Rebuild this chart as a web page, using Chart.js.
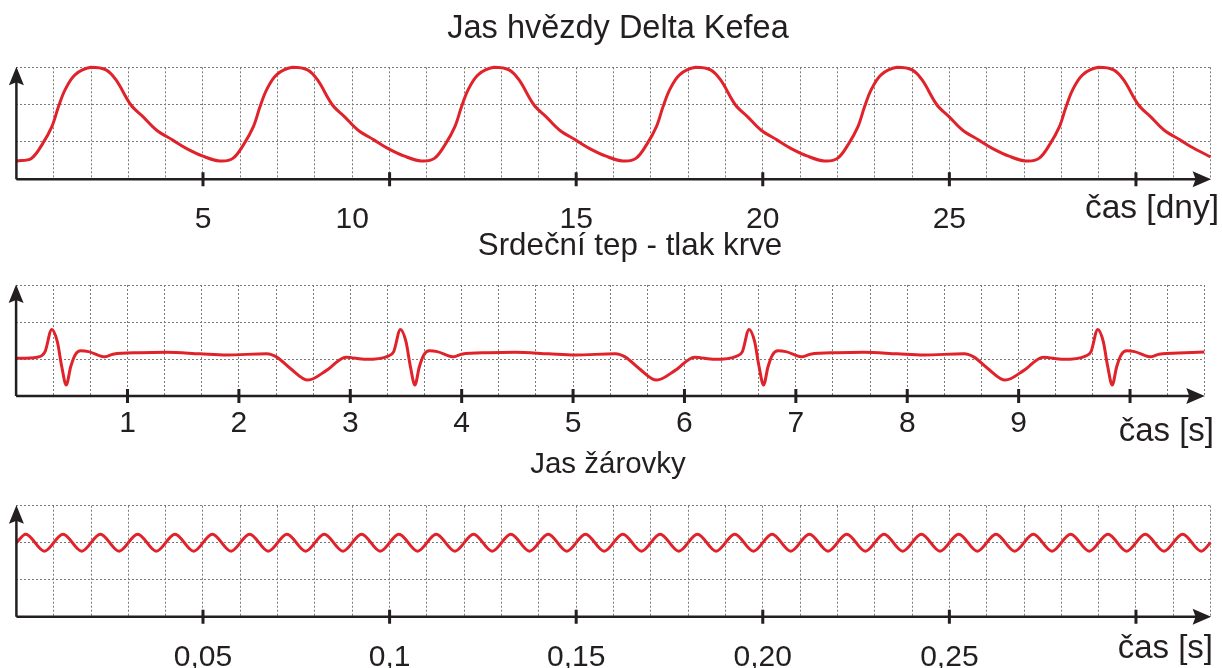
<!DOCTYPE html>
<html>
<head>
<meta charset="utf-8">
<script src="https://cdn.jsdelivr.net/npm/chart.js@4/dist/chart.umd.min.js"></script>
<style>
  body { margin: 0; background: #fff; }
  #wrap { position: relative; width: 1222px; height: 668px; overflow: hidden; }
  #wrap canvas { position: absolute; left: 0; top: 0; }
</style>
</head>
<body>
<div id="wrap">
  <canvas id="c1" width="1222" height="668"></canvas>
  <canvas id="c2" width="1222" height="668"></canvas>
  <canvas id="c3" width="1222" height="668"></canvas>
</div>
<script>
// 1) Jas hvězdy Delta Kefea - čas ve dnech, jas (0..3)
var starDays = [0, 0.4, 0.7, 0.95, 1.12, 1.3, 1.57, 2.0, 2.4, 2.67, 3.07, 3.39, 3.75, 4.19, 4.55, 5.0, 5.45,
  5.8, 6.1, 6.35, 6.52, 6.7, 6.97, 7.4, 7.8, 8.07, 8.47, 8.79, 9.15, 9.59, 9.95, 10.4, 10.85,
  11.2, 11.5, 11.75, 11.92, 12.1, 12.37, 12.8, 13.2, 13.47, 13.87, 14.19, 14.55, 14.99, 15.35, 15.8, 16.25,
  16.6, 16.9, 17.15, 17.32, 17.5, 17.77, 18.2, 18.6, 18.87, 19.27, 19.59, 19.95, 20.39, 20.75, 21.2, 21.65,
  22.0, 22.3, 22.55, 22.72, 22.9, 23.17, 23.6, 24.0, 24.27, 24.67, 24.99, 25.35, 25.79, 26.15, 26.6, 27.05,
  27.4, 27.7, 27.95, 28.12, 28.3, 28.57, 29.0, 29.4, 29.67, 30.07, 30.39, 30.75, 31.19, 31.55, 32.0];
var starBrightness = [0.49, 0.56, 0.95, 1.41, 1.92, 2.39, 2.8, 3.0, 2.93, 2.66, 1.99, 1.68, 1.32, 1.05, 0.83, 0.62, 0.49,
  0.56, 0.95, 1.41, 1.92, 2.39, 2.8, 3.0, 2.93, 2.66, 1.99, 1.68, 1.32, 1.05, 0.83, 0.62, 0.49,
  0.56, 0.95, 1.41, 1.92, 2.39, 2.8, 3.0, 2.93, 2.66, 1.99, 1.68, 1.32, 1.05, 0.83, 0.62, 0.49,
  0.56, 0.95, 1.41, 1.92, 2.39, 2.8, 3.0, 2.93, 2.66, 1.99, 1.68, 1.32, 1.05, 0.83, 0.62, 0.49,
  0.56, 0.95, 1.41, 1.92, 2.39, 2.8, 3.0, 2.93, 2.66, 1.99, 1.68, 1.32, 1.05, 0.83, 0.62, 0.49,
  0.56, 0.95, 1.41, 1.92, 2.39, 2.8, 3.0, 2.93, 2.66, 1.99, 1.68, 1.32, 1.05, 0.83, 0.60];
var starTicks = [5, 10, 15, 20, 25, 30];
var starTickLabels = ['5', '10', '15', '20', '25'];
var starLabelAt = [5, 9, 15, 20, 25];

// 2) Srdeční tep - čas v sekundách, tlak (0..3)
var heartTime = [0, 0.19, 0.26, 0.32, 0.37, 0.41, 0.45, 0.49, 0.53, 0.58, 0.65, 0.80, 0.87, 1.11, 1.35, 1.65, 1.89, 2.25, 2.34, 2.46, 2.62, 2.79, 2.96, 3.14, 3.34,
  3.39, 3.45, 3.50, 3.54, 3.58, 3.62, 3.66, 3.71, 3.78, 3.93, 4.00, 4.24, 4.48, 4.78, 5.02, 5.38, 5.47, 5.59, 5.75, 5.92, 6.09, 6.27, 6.47,
  6.52, 6.58, 6.63, 6.67, 6.71, 6.75, 6.79, 6.84, 6.91, 7.06, 7.13, 7.37, 7.61, 7.91, 8.15, 8.51, 8.60, 8.72, 8.88, 9.05, 9.22, 9.40, 9.60,
  9.65, 9.71, 9.76, 9.80, 9.84, 9.88, 9.92, 9.97, 10.04, 10.19, 10.26, 10.50, 10.667];
var heartPressure = [1.02, 1.05, 1.2, 1.8, 1.47, 0.79, 0.30, 0.79, 1.11, 1.22, 1.20, 1.06, 1.13, 1.17, 1.18, 1.14, 1.11, 1.14, 1.05, 0.75, 0.43, 0.70, 1.05, 0.99, 1.08,
  1.2, 1.8, 1.47, 0.79, 0.30, 0.79, 1.11, 1.22, 1.20, 1.06, 1.13, 1.17, 1.18, 1.14, 1.11, 1.14, 1.05, 0.75, 0.43, 0.70, 1.05, 0.99, 1.08,
  1.2, 1.8, 1.47, 0.79, 0.30, 0.79, 1.11, 1.22, 1.20, 1.06, 1.13, 1.17, 1.18, 1.14, 1.11, 1.14, 1.05, 0.75, 0.43, 0.70, 1.05, 0.99, 1.08,
  1.2, 1.8, 1.47, 0.79, 0.30, 0.79, 1.11, 1.22, 1.20, 1.06, 1.13, 1.17, 1.19];
var heartTicks = [1, 2, 3, 4, 5, 6, 7, 8, 9, 10];
var heartTickLabels = ['1', '2', '3', '4', '5', '6', '7', '8', '9'];
var heartLabelAt = [1, 2, 3, 4, 5, 6, 7, 8, 9];

// 3) Jas žárovky - čas v sekundách, jas (0..3)
var bulbTime = [0,
  0.0025, 0.0075, 0.0125, 0.0175, 0.0225, 0.0275, 0.0325, 0.0375, 0.0425, 0.0475, 0.0525, 0.0575, 0.0625, 0.0675, 0.0725, 0.0775,
  0.0825, 0.0875, 0.0925, 0.0975, 0.1025, 0.1075, 0.1125, 0.1175, 0.1225, 0.1275, 0.1325, 0.1375, 0.1425, 0.1475, 0.1525, 0.1575,
  0.1625, 0.1675, 0.1725, 0.1775, 0.1825, 0.1875, 0.1925, 0.1975, 0.2025, 0.2075, 0.2125, 0.2175, 0.2225, 0.2275, 0.2325, 0.2375,
  0.2425, 0.2475, 0.2525, 0.2575, 0.2625, 0.2675, 0.2725, 0.2775, 0.2825, 0.2875, 0.2925, 0.2975, 0.3025, 0.3075, 0.3125, 0.3175,
  0.32];
var bulbBrightness = [2.0,
  2.23, 1.77, 2.23, 1.77, 2.23, 1.77, 2.23, 1.77, 2.23, 1.77, 2.23, 1.77, 2.23, 1.77, 2.23, 1.77,
  2.23, 1.77, 2.23, 1.77, 2.23, 1.77, 2.23, 1.77, 2.23, 1.77, 2.23, 1.77, 2.23, 1.77, 2.23, 1.77,
  2.23, 1.77, 2.23, 1.77, 2.23, 1.77, 2.23, 1.77, 2.23, 1.77, 2.23, 1.77, 2.23, 1.77, 2.23, 1.77,
  2.23, 1.77, 2.23, 1.77, 2.23, 1.77, 2.23, 1.77, 2.23, 1.77, 2.23, 1.77, 2.23, 1.77, 2.23, 1.77,
  2.0];
var bulbTicks = [0.05, 0.1, 0.15, 0.2, 0.25, 0.3];
var bulbTickLabels = ['0,05', '0,1', '0,15', '0,20', '0,25'];
var bulbLabelAt = [0.05, 0.1, 0.15, 0.2, 0.25];

var FAMILY = '"Liberation Sans", Arial, sans-serif';
var INK = '#231f20';
var RED = '#e0232a';

// osy se šipkami, hlavní značky, popisky
var decorPlugin = {
  id: 'decor',
  afterDraw: function(chart, args, o) {
    var ctx = chart.ctx, a = chart.chartArea, xs = chart.scales.x;
    ctx.save();
    ctx.strokeStyle = INK;
    ctx.fillStyle = INK;
    ctx.lineWidth = 2.5;
    ctx.beginPath();
    ctx.moveTo(a.left, a.bottom);
    ctx.lineTo(a.left, a.top + 12);
    ctx.moveTo(a.left, a.bottom);
    ctx.lineTo(a.right - 12, a.bottom);
    ctx.stroke();
    // šipky
    ctx.beginPath();
    ctx.moveTo(a.left, a.top - 0.5);
    ctx.lineTo(a.left + 7.5, a.top + 18);
    ctx.lineTo(a.left, a.top + 15);
    ctx.lineTo(a.left - 7.5, a.top + 18);
    ctx.closePath();
    ctx.fill();
    ctx.beginPath();
    ctx.moveTo(a.right + 0.5, a.bottom);
    ctx.lineTo(a.right - 18, a.bottom - 8);
    ctx.lineTo(a.right - 15, a.bottom);
    ctx.lineTo(a.right - 18, a.bottom + 8);
    ctx.closePath();
    ctx.fill();
    // značky
    ctx.lineWidth = 3;
    ctx.beginPath();
    o.ticks.forEach(function(v) {
      var x = xs.getPixelForValue(v);
      ctx.moveTo(x, a.bottom - 7);
      ctx.lineTo(x, a.bottom + 7);
    });
    ctx.stroke();
    // texty
    ctx.textBaseline = 'alphabetic';
    ctx.textAlign = 'center';
    ctx.font = '30px ' + FAMILY;
    o.labels.forEach(function(t, i) {
      ctx.fillText(t, xs.getPixelForValue(o.labelAt[i]), o.labelY);
    });
    ctx.textAlign = 'right';
    ctx.font = o.axisTitleSize + 'px ' + FAMILY;
    ctx.fillText(o.axisTitle, o.axisTitleX, o.axisTitleY);
    ctx.textAlign = 'center';
    ctx.font = o.titleSize + 'px ' + FAMILY;
    ctx.fillText(o.title, o.titleX, o.titleY);
    ctx.restore();
  }
};

function makeChart(id, xs, ys, xMax, gridStep, padding, smooth, decor) {
  var pts = [];
  for (var i = 0; i < xs.length; i++) pts.push({ x: xs[i], y: ys[i] });
  var ds = {
    data: pts,
    borderColor: RED,
    borderWidth: 3,
    pointRadius: 0,
    clip: 6
  };
  if (smooth) ds.tension = smooth; else ds.cubicInterpolationMode = 'monotone';
  return new Chart(document.getElementById(id), {
    type: 'line',
    data: { datasets: [ds] },
    options: {
      responsive: false,
      animation: false,
      events: [],
      layout: { padding: padding },
      plugins: { legend: { display: false }, tooltip: { enabled: false }, decor: decor },
      scales: {
        x: {
          type: 'linear', min: 0, max: xMax,
          afterBuildTicks: function(s) {
            var t = [];
            for (var k = 0; k <= 32; k++) t.push({ value: k * gridStep });
            s.ticks = t;
          },
          ticks: { display: false },
          grid: { color: '#7a7a7a', lineWidth: 1, drawTicks: false },
          border: { display: false, dash: [2, 2] }
        },
        y: {
          type: 'linear', min: 0, max: 3,
          ticks: { display: false, stepSize: 1 },
          grid: { color: '#7a7a7a', lineWidth: 1, drawTicks: false },
          border: { display: false, dash: [2, 2] }
        }
      }
    },
    plugins: [decorPlugin]
  });
}

makeChart('c1', starDays, starBrightness, 32, 1,
  { left: 16.4, right: 11.4, top: 67.3, bottom: 488.7 }, 0.35,
  { ticks: starTicks, labels: starTickLabels, labelAt: starLabelAt, labelY: 228,
    axisTitle: 'čas [dny]', axisTitleSize: 33.5, axisTitleX: 1219, axisTitleY: 218,
    title: 'Jas hvězdy Delta Kefea', titleSize: 32.5, titleX: 618, titleY: 38 });

makeChart('c2', heartTime, heartPressure, 32 / 3, 1 / 3,
  { left: 16.1, right: 17.7, top: 285, bottom: 272 }, 0,
  { ticks: heartTicks, labels: heartTickLabels, labelAt: heartLabelAt, labelY: 432,
    axisTitle: 'čas [s]', axisTitleSize: 33, axisTitleX: 1214, axisTitleY: 441,
    title: 'Srdeční tep - tlak krve', titleSize: 31.3, titleX: 630, titleY: 255 });

makeChart('c3', bulbTime, bulbBrightness, 0.32, 0.01,
  { left: 16.4, right: 11.4, top: 505.7, bottom: 51.3 }, 0,
  { ticks: bulbTicks, labels: bulbTickLabels, labelAt: bulbLabelAt, labelY: 666,
    axisTitle: 'čas [s]', axisTitleSize: 33, axisTitleX: 1213, axisTitleY: 658,
    title: 'Jas žárovky', titleSize: 29.5, titleX: 608, titleY: 473 });
</script>
</body>
</html>
